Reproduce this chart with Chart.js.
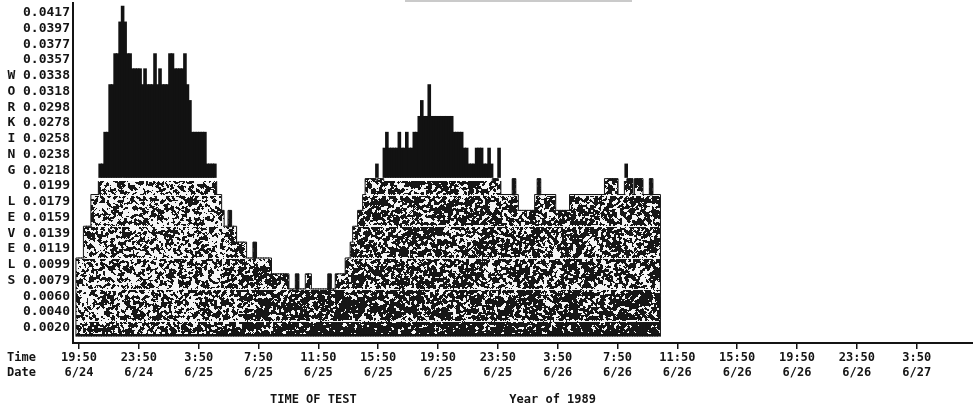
<!DOCTYPE html>
<html>
<head>
<meta charset="utf-8">
<script src="https://cdn.jsdelivr.net/npm/chart.js@4.4.1/dist/chart.umd.min.js"></script>
<style>
  html, body { margin: 0; padding: 0; background: #fff; }
  #wrap { width: 973px; height: 405px; position: relative; }
</style>
</head>
<body>
<div id="wrap"><canvas id="c" width="973" height="405"></canvas></div>
<script>
// Working-level scale: 21 rows, each one twenty-first of 0.0417 WL
const LEVEL_LABELS = ['0.0020','0.0040','0.0060','0.0079','0.0099','0.0119','0.0139',
  '0.0159','0.0179','0.0199','0.0218','0.0238','0.0258','0.0278','0.0298','0.0318',
  '0.0338','0.0357','0.0377','0.0397','0.0417'];
const AXIS_LETTERS = 'WORKING LEVELS';   // stacked down the rows from 0.0338
const TIME_LABELS = ['19:50','23:50','3:50','7:50','11:50','15:50','19:50','23:50',
  '3:50','7:50','11:50','15:50','19:50','23:50','3:50'];
const DATE_LABELS = ['6/24','6/24','6/25','6/25','6/25','6/25','6/25','6/25',
  '6/26','6/26','6/26','6/26','6/26','6/26','6/27'];
const ROW_LABELS = ['Time', 'Date'];
const AXIS_TITLE = 'TIME OF TEST';
const YEAR_NOTE = 'Year of 1989';

// 10-minute working-level counts; the first count ends at 19:50 on 6/24
const wl_0624 = [
  0.0099,0.0099,0.0099,0.0139,0.0139,0.0139,0.0179,0.0179,0.0179,0.0218,0.0218,0.0258,
  0.0258,0.0318,0.0318,0.0357,0.0357,0.0397,0.0417,0.0397,0.0357,0.0357,0.0338,0.0338,
  0.0338];
const wl_0625 = [
  0.0338,0.0318,0.0338,0.0318,0.0318,0.0318,
  0.0357,0.0318,0.0338,0.0318,0.0318,0.0318,
  0.0357,0.0357,0.0338,0.0338,0.0338,0.0338,
  0.0357,0.0318,0.0298,0.0258,0.0258,0.0258,
  0.0258,0.0258,0.0258,0.0218,0.0218,0.0218,
  0.0218,0.0179,0.0179,0.0159,0.0139,0.0139,
  0.0159,0.0139,0.0139,0.0119,0.0119,0.0119,
  0.0119,0.0099,0.0099,0.0099,0.0119,0.0099,
  0.0099,0.0099,0.0099,0.0099,0.0099,0.0079,
  0.0079,0.0079,0.0079,0.0079,0.0079,0.0079,
  0.0060,0.0060,0.0060,0.0079,0.0060,0.0060,
  0.0060,0.0079,0.0079,0.0060,0.0060,0.0060,
  0.0060,0.0060,0.0060,0.0060,0.0079,0.0060,
  0.0060,0.0079,0.0079,0.0079,0.0079,0.0099,
  0.0099,0.0119,0.0139,0.0139,0.0159,0.0159,
  0.0179,0.0199,0.0199,0.0199,0.0199,0.0218,
  0.0199,0.0199,0.0238,0.0258,0.0238,0.0238,
  0.0238,0.0238,0.0258,0.0238,0.0238,0.0258,
  0.0238,0.0238,0.0258,0.0258,0.0278,0.0298,
  0.0278,0.0278,0.0318,0.0278,0.0278,0.0278,
  0.0278,0.0278,0.0278,0.0278,0.0278,0.0278,
  0.0258,0.0258,0.0258,0.0258,0.0238,0.0238,
  0.0218,0.0218,0.0218,0.0238,0.0238,0.0238,
  0.0218,0.0218,0.0238,0.0218,0.0199,0.0199];
const wl_0626 = [
  0.0238,0.0179,0.0179,0.0179,0.0179,0.0179,
  0.0199,0.0179,0.0159,0.0159,0.0159,0.0159,
  0.0159,0.0159,0.0159,0.0179,0.0199,0.0179,
  0.0179,0.0179,0.0179,0.0179,0.0179,0.0159,
  0.0159,0.0159,0.0159,0.0159,0.0159,0.0179,
  0.0179,0.0179,0.0179,0.0179,0.0179,0.0179,
  0.0179,0.0179,0.0179,0.0179,0.0179,0.0179,
  0.0179,0.0199,0.0199,0.0199,0.0199,0.0199,
  0.0179,0.0179,0.0179,0.0218,0.0199,0.0199,
  0.0179,0.0199,0.0199,0.0199,0.0179,0.0179,
  0.0179,0.0199,0.0179,0.0179,0.0179];

const LEVEL_STEP = 0.0417 / 21;
const COUNT_MINUTES = 10;
const TICK_MINUTES = 240;
const SOLID_THRESHOLD = 0.0199;   // readings above this are printed solid black
const SOLID_BASE = 0.0200;
const STIPPLE_CAP = 0.0196;

const readings = [...wl_0624, ...wl_0625, ...wl_0626];
// each bar sits at the middle of its 10-minute counting interval
const midMinute = n => n * COUNT_MINUTES - COUNT_MINUTES / 2;

const stippleData = readings.map((v, n) => ({ x: midMinute(n), y: v > SOLID_THRESHOLD ? STIPPLE_CAP : v }));
const solidData = readings
  .map((v, n) => ({ x: midMinute(n), y: [SOLID_BASE, v], v }))
  .filter(p => p.v > SOLID_THRESHOLD);

const INK = '#141414';
const MONO = "'DejaVu Sans Mono', 'Liberation Mono', monospace";

function hash2(x, y) {
  let h = Math.imul(x, 374761393) ^ Math.imul(y + 7919, 668265263);
  h = Math.imul(h ^ (h >>> 13), 1274126177);
  h ^= h >>> 16;
  return (h >>> 0) / 4294967296;
}

// Printer stipple used for the lower part of the bars
function makeStipple(chart) {
  const W = chart.width, H = chart.height;
  const ys = chart.scales.y, xs = chart.scales.x;
  const lv = k => ys.getPixelForValue(k * LEVEL_STEP);
  const raw = new Float32Array(W * H);
  for (let y = 0; y < H; y++) for (let x = 0; x < W; x++) raw[y * W + x] = hash2(x, y);
  // one light smoothing pass gives short worm-like grains
  const f = new Float32Array(W * H);
  for (let y = 0; y < H; y++) {
    for (let x = 0; x < W; x++) {
      let s = 0, n = 0;
      for (let dy = -1; dy <= 1; dy++) {
        const yy = y + dy; if (yy < 0 || yy >= H) continue;
        for (let dx = -1; dx <= 1; dx++) {
          const xx = x + dx; if (xx < 0 || xx >= W) continue;
          const w = (dx === 0 && dy === 0) ? 2 : 1;
          s += raw[yy * W + xx] * w; n += w;
        }
      }
      f[y * W + x] = s / n;
    }
  }
  const sample = [];
  for (let i = 0; i < f.length; i += 31) sample.push(f[i]);
  sample.sort((a, b) => a - b);
  const q = p => sample[Math.max(0, Math.min(sample.length - 1, Math.floor(p * sample.length)))];

  const xLightEnd = xs.getPixelForValue(560), xRamp = 40;
  const xTroughEnd = xs.getPixelForValue(1060);
  const y1 = lv(1), y3 = lv(3), y0 = lv(0);

  const off = document.createElement('canvas');
  off.width = W; off.height = H;
  const g = off.getContext('2d');
  const img = g.createImageData(W, H);
  const d = img.data;
  for (let y = 0; y < H; y++) {
    for (let x = 0; x < W; x++) {
      const t = Math.max(0, Math.min(1, (x - xLightEnd) / xRamp));
      let light, dark;
      if (y > y1) { light = 0.62; dark = 0.86; }
      else if (y > y3) { light = 0.52; dark = x < xTroughEnd ? 0.76 : 0.72; }
      else { light = 0.47; dark = x < xTroughEnd ? 0.68 : 0.66; }
      const p = light + (dark - light) * t;
      const i = y * W + x;
      const black = f[i] < q(p);
      const c = black ? 22 : 244;
      d[i * 4] = c; d[i * 4 + 1] = c; d[i * 4 + 2] = c; d[i * 4 + 3] = 255;
    }
  }
  // light rules between the stipple bands
  for (const k of [1, 3, 5, 7, 9]) {
    const yy = Math.round(lv(k));
    for (let x = 0; x < W; x++) {
      const rows = [[yy, 0.92], [yy - 1, 0.45]];
      for (const [ry, pr] of rows) {
        if (ry < 0 || ry >= H) continue;
        if (hash2(x * 3 + 1, ry * 5 + k) < pr) {
          const i = (ry * W + x) * 4;
          d[i] = d[i + 1] = d[i + 2] = 245;
        }
      }
    }
  }
  // dark base line along the bottom of the bars
  for (let y = Math.round(y0) - 3; y <= Math.round(y0); y++) {
    for (let x = 0; x < W; x++) {
      const i = (y * W + x) * 4;
      d[i] = d[i + 1] = d[i + 2] = 18;
    }
  }
  g.putImageData(img, 0, 0);
  return g.createPattern(off, 'no-repeat');
}

const stipplePlugin = {
  id: 'stipple',
  afterLayout(chart) {
    if (!chart.$stipple) chart.$stipple = makeStipple(chart);
  }
};

// Inked outline along the stepped edge of the stippled bars;
// single-count peaks print as solid strokes
const outlinePlugin = {
  id: 'stepOutline',
  afterDatasetsDraw(chart) {
    const bars = chart.getDatasetMeta(0).data;
    if (!bars.length) return;
    const base = chart.scales.y.getPixelForValue(0);
    const ctx = chart.ctx;
    ctx.save();
    ctx.fillStyle = '#161616';
    bars.forEach((el, n) => {
      if (readings[n] > SOLID_THRESHOLD) return;
      const prevTop = n > 0 ? bars[n - 1].y : base;
      const nextTop = n < bars.length - 1 ? bars[n + 1].y : base;
      const shoulder = Math.min(prevTop, nextTop);
      if (el.y < shoulder - 0.5) {
        ctx.fillRect(el.x - el.width / 2 + 0.3, el.y, el.width - 0.6, shoulder - el.y + 1);
      }
    });
    ctx.strokeStyle = '#161616';
    ctx.lineWidth = 1;
    ctx.beginPath();
    bars.forEach((el, n) => {
      const hw = el.width / 2;
      if (!(readings[n] > SOLID_THRESHOLD)) {
        ctx.moveTo(el.x - hw, el.y);
        ctx.lineTo(el.x + hw, el.y);
      }
      const prev = n > 0 ? bars[n - 1] : null;
      const prevTop = prev ? prev.y : base;
      if (Math.abs(prevTop - el.y) > 0.5) {
        const edge = (prev && prevTop < el.y) ? prev.x + prev.width / 2 : el.x - hw;
        ctx.moveTo(edge, prevTop);
        ctx.lineTo(edge, el.y);
      }
    });
    const last = bars[bars.length - 1];
    ctx.moveTo(last.x + last.width / 2, last.y);
    ctx.lineTo(last.x + last.width / 2, base);
    ctx.stroke();
    ctx.restore();
  }
};

const captionPlugin = {
  id: 'captions',
  afterDraw(chart) {
    const ctx = chart.ctx;
    const xs = chart.scales.x;
    ctx.save();
    ctx.fillStyle = INK;
    ctx.font = 'bold 12px ' + MONO;
    ctx.textBaseline = 'middle';
    ctx.textAlign = 'left';
    const rowY = xs.top + 15;
    ctx.fillText(ROW_LABELS[0], 7, rowY);
    ctx.fillText(ROW_LABELS[1], 7, rowY + 15);
    ctx.textAlign = 'center';
    ctx.fillText(AXIS_TITLE, xs.getPixelForValue(940), rowY + 41.5);
    ctx.fillText(YEAR_NOTE, xs.getPixelForValue(1900), rowY + 41.5);
    // faint rule along the top edge of the sheet
    ctx.strokeStyle = 'rgba(0,0,0,0.28)';
    ctx.lineWidth = 1.5;
    ctx.beginPath();
    ctx.moveTo(405, 1);
    ctx.lineTo(632, 1);
    ctx.stroke();
    ctx.restore();
  }
};

const barLook = {
  borderWidth: 0,
  grouped: false,
  categoryPercentage: 1,
  barPercentage: 1.45
};

new Chart(document.getElementById('c'), {
  type: 'bar',
  data: {
    datasets: [
      Object.assign({ label: 'stipple', data: stippleData, backgroundColor: c => c.chart.$stipple || '#777' }, barLook),
      Object.assign({ label: 'solid', data: solidData, backgroundColor: '#121212' }, barLook)
    ]
  },
  options: {
    responsive: false,
    animation: false,
    events: [],
    layout: { padding: { top: 3, right: 0, bottom: 0, left: 0 } },
    plugins: { legend: { display: false }, tooltip: { enabled: false }, title: { display: false } },
    scales: {
      x: {
        type: 'linear',
        offset: false,
        min: -24,
        max: 3586,
        afterFit: s => { s.height = 62; s.paddingLeft = 0; s.paddingRight = 0; },
        afterBuildTicks: s => { s.ticks = TIME_LABELS.map((_, i) => ({ value: i * TICK_MINUTES })); },
        grid: { display: true, offset: false, drawOnChartArea: false, drawTicks: true, tickLength: 6, color: INK, lineWidth: 1.5 },
        border: { display: true, color: INK, width: 2 },
        ticks: {
          autoSkip: false, maxRotation: 0, minRotation: 0, padding: 1.5, color: INK,
          font: { family: MONO, size: 12, weight: 'bold', lineHeight: 1.25 },
          callback: (v, i) => [TIME_LABELS[i], DATE_LABELS[i]]
        }
      },
      y: {
        type: 'linear',
        min: -0.41 * LEVEL_STEP,
        max: 21.17 * LEVEL_STEP,
        afterFit: s => { s.width = 73; s.paddingTop = 0; s.paddingBottom = 0; },
        afterBuildTicks: s => { s.ticks = LEVEL_LABELS.map((_, i) => ({ value: (i + 0.55) * LEVEL_STEP })); },
        grid: { display: false, drawTicks: false },
        border: { display: true, color: INK, width: 2 },
        ticks: {
          autoSkip: false, padding: 3, color: INK,
          font: { family: MONO, size: 13, weight: 'bold' },
          callback: (v, i) => {
            const k = 16 - i;
            const letter = (k >= 0 && k < AXIS_LETTERS.length) ? AXIS_LETTERS[k] : ' ';
            return letter + ' ' + LEVEL_LABELS[i];
          }
        }
      }
    }
  },
  plugins: [stipplePlugin, outlinePlugin, captionPlugin]
});
</script>
</body>
</html>
